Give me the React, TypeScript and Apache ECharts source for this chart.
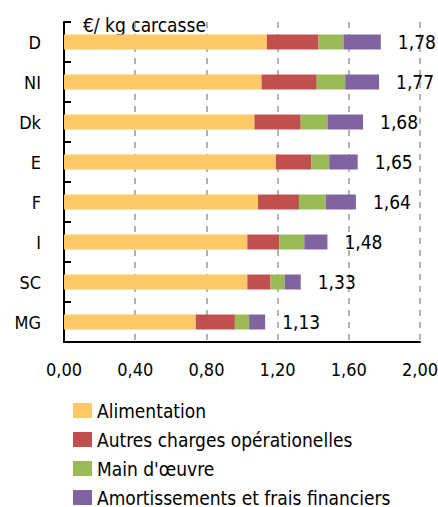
import React, { useEffect, useRef } from "react";
import * as echarts from "echarts";

const categories = ["D", "NI", "Dk", "E", "F", "I", "SC", "MG"];
const alimentation = [1.14, 1.11, 1.07, 1.19, 1.09, 1.03, 1.03, 0.74];
const autresCharges = [0.29, 0.31, 0.26, 0.2, 0.23, 0.18, 0.13, 0.22];
const mainOeuvre = [0.14, 0.16, 0.15, 0.1, 0.15, 0.14, 0.08, 0.08];
const amortissements = [0.21, 0.19, 0.2, 0.16, 0.17, 0.13, 0.09, 0.09];
const totals = ["1,78", "1,77", "1,68", "1,65", "1,64", "1,48", "1,33", "1,13"];
const seriesNames = [
  "Alimentation",
  "Autres charges opérationelles",
  "Main d'œuvre",
  "Amortissements et frais financiers",
];
const colors = ["#FFC869", "#C0504D", "#9BBB59", "#8064A2"];

const FONT = "'DejaVu Sans Condensed', 'Liberation Sans Narrow', sans-serif";

export default function App() {
  const ref = useRef<HTMLDivElement>(null);
  useEffect(() => {
    document.body.style.margin = "0";
    if (!ref.current) return;
    const chart = echarts.init(ref.current, undefined, { renderer: "svg" });
    const datasets = [alimentation, autresCharges, mainOeuvre, amortissements];
    chart.setOption({
      animation: false,
      textStyle: { fontFamily: FONT, color: "#000" },
      grid: {
        left: 64,
        right: 18,
        top: 22,
        bottom: 165,
        containLabel: false,
        outerBoundsMode: "none",
      },
      legend: {
        orient: "vertical",
        left: 73,
        top: 401,
        height: 200,
        padding: 0,
        itemWidth: 19,
        itemHeight: 15,
        itemGap: 10,
        icon: "rect",
        textStyle: { fontFamily: FONT, fontSize: 19, color: "#000", lineHeight: 19 },
        data: seriesNames,
      },
      graphic: [
        {
          type: "text",
          x: 83,
          y: 25,
          style: {
            text: "€/ kg carcasse",
            font: `19px ${FONT}`,
            fill: "#000",
            verticalAlign: "middle",
          },
        },
      ],
      xAxis: {
        type: "value",
        min: 0,
        max: 2,
        interval: 0.4,
        axisLine: { show: true, lineStyle: { color: "#000", width: 2 } },
        axisTick: { show: false },
        axisLabel: {
          margin: 18,
          fontSize: 18,
          fontFamily: FONT,
          color: "#000",
          formatter: (v: number) => v.toFixed(2).replace(".", ","),
        },
        splitLine: {
          show: true,
          lineStyle: { color: "#999", type: [6, 6], width: 1.5 },
        },
      },
      yAxis: {
        type: "category",
        data: categories,
        inverse: true,
        axisLine: { show: true, lineStyle: { color: "#000", width: 2 } },
        axisTick: { show: true, inside: true, length: 7, lineStyle: { color: "#000", width: 2 } },
        axisLabel: { margin: 23, fontSize: 18, fontFamily: FONT, color: "#000" },
        splitLine: { show: false },
      },
      series: datasets.map((d, i) => ({
        name: seriesNames[i],
        type: "bar",
        stack: "total",
        barWidth: 15,
        data: d,
        itemStyle: { color: colors[i] },
        label:
          i === 3
            ? {
                show: true,
                position: "right",
                distance: 17,
                fontSize: 19,
                fontFamily: FONT,
                color: "#000",
                formatter: (p: any) => totals[p.dataIndex],
              }
            : { show: false },
      })),
    });
    return () => chart.dispose();
  }, []);
  return <div ref={ref} style={{ width: 438, height: 507 }} />;
}
